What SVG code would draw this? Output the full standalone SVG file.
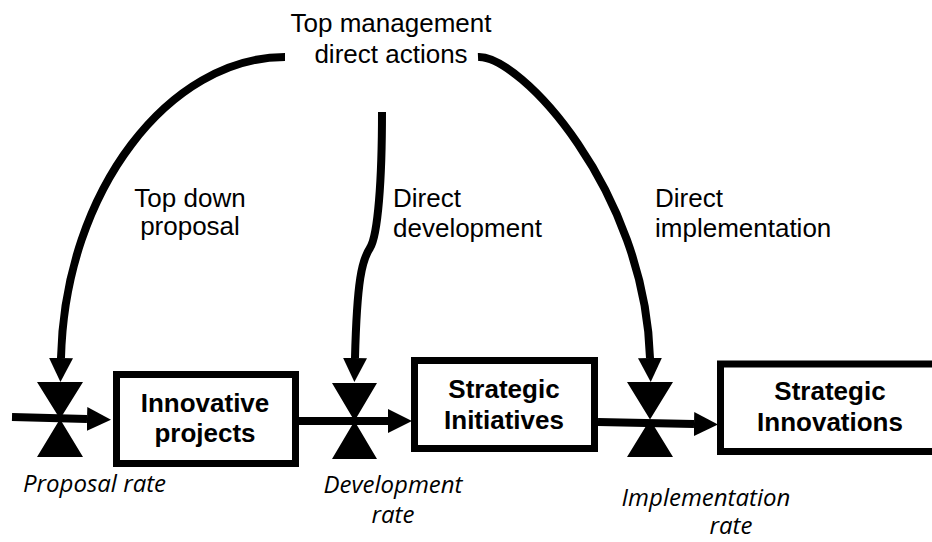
<svg xmlns="http://www.w3.org/2000/svg" width="932" height="542" viewBox="0 0 932 542">
  <style>
    .lbl { font-family: Arial, "Liberation Sans", sans-serif; font-size: 26px; fill: #000; }
    .box-text { font-family: Arial, "Liberation Sans", sans-serif; font-size: 26px; font-weight: bold; fill: #000; text-anchor: middle; }
    .rate { font-family: "Open Sans", "DejaVu Sans", sans-serif; font-size: 24px; font-style: italic; fill: #000; }
    .box { fill: #fff; stroke: #000; stroke-width: 7; }
    .valve { fill: #000; }
    .flow { fill: none; stroke: #000; stroke-width: 8; }
    .info { fill: none; stroke: #000; stroke-width: 8; }
  </style>
  <defs>
    <marker id="head" markerUnits="userSpaceOnUse" markerWidth="24" markerHeight="24" refX="0" refY="12" orient="auto">
      <path d="M0,0 L24,12 L0,24 Z" fill="#000"/>
    </marker>
  </defs>
  <rect width="932" height="542" fill="#fff"/>

  <!-- connectors: material flows and top-management influences -->
  <g id="connectors">
    <path class="flow" d="M12 417 L87 419" marker-end="url(#head)"/>
    <path class="flow" d="M299 421 L388 421" marker-end="url(#head)"/>
    <path class="flow" d="M598 422 L694 424" marker-end="url(#head)"/>

    <path class="info" d="M285 57 C170 57, 65 190, 61 358" marker-end="url(#head)"/>
    <path class="info" d="M382 112 C382 180, 378 235, 370 248 C362 260, 357 280, 355 358" marker-end="url(#head)"/>
    <path class="info" d="M478 57 C520 55, 645 190, 650 358" marker-end="url(#head)"/>
  </g>

  <!-- valves -->
  <g id="valve-proposal">
    <path class="valve" d="M37 382 L83 382 L60 419 Z M60 419 L37 457 L83 457 Z"/>
  </g>
  <g id="valve-development">
    <path class="valve" d="M332 383 L377 383 L354.5 421 Z M354.5 421 L332 459 L377 459 Z"/>
  </g>
  <g id="valve-implementation">
    <path class="valve" d="M627 382 L673 382 L650 419.5 Z M650 419.5 L627 457 L673 457 Z"/>
  </g>

  <!-- stocks -->
  <g id="innovative-projects">
    <rect class="box" x="116.5" y="374.5" width="179" height="89"/>
    <text class="box-text" x="205" y="412">Innovative</text>
    <text class="box-text" x="205" y="442">projects</text>
  </g>
  <g id="strategic-initiatives">
    <rect class="box" x="414.5" y="360.5" width="180" height="88"/>
    <text class="box-text" x="504" y="398">Strategic</text>
    <text class="box-text" x="504" y="429">Initiatives</text>
  </g>
  <g id="strategic-innovations">
    <rect class="box" x="720.5" y="364" width="240" height="87.5"/>
    <text class="box-text" x="830" y="400">Strategic</text>
    <text class="box-text" x="830" y="431">Innovations</text>
  </g>

  <!-- source of the influences -->
  <g id="top-management">
    <text class="lbl" x="391" y="32" text-anchor="middle">Top management</text>
    <text class="lbl" x="391" y="63" text-anchor="middle">direct actions</text>
  </g>

  <!-- influence labels -->
  <g id="labels">
    <text class="lbl" x="190" y="207" text-anchor="middle">Top down</text>
    <text class="lbl" x="190" y="235" text-anchor="middle">proposal</text>
    <text class="lbl" x="393" y="207">Direct</text>
    <text class="lbl" x="393" y="237">development</text>
    <text class="lbl" x="655" y="207">Direct</text>
    <text class="lbl" x="655" y="237">implementation</text>
  </g>

  <!-- rate labels -->
  <g id="rates">
    <text class="rate" x="23" y="492">Proposal rate</text>
    <text class="rate" x="393" y="493" text-anchor="middle">Development</text>
    <text class="rate" x="393" y="523" text-anchor="middle">rate</text>
    <text class="rate" x="706" y="506" text-anchor="middle">Implementation</text>
    <text class="rate" x="731" y="534" text-anchor="middle">rate</text>
  </g>
</svg>
